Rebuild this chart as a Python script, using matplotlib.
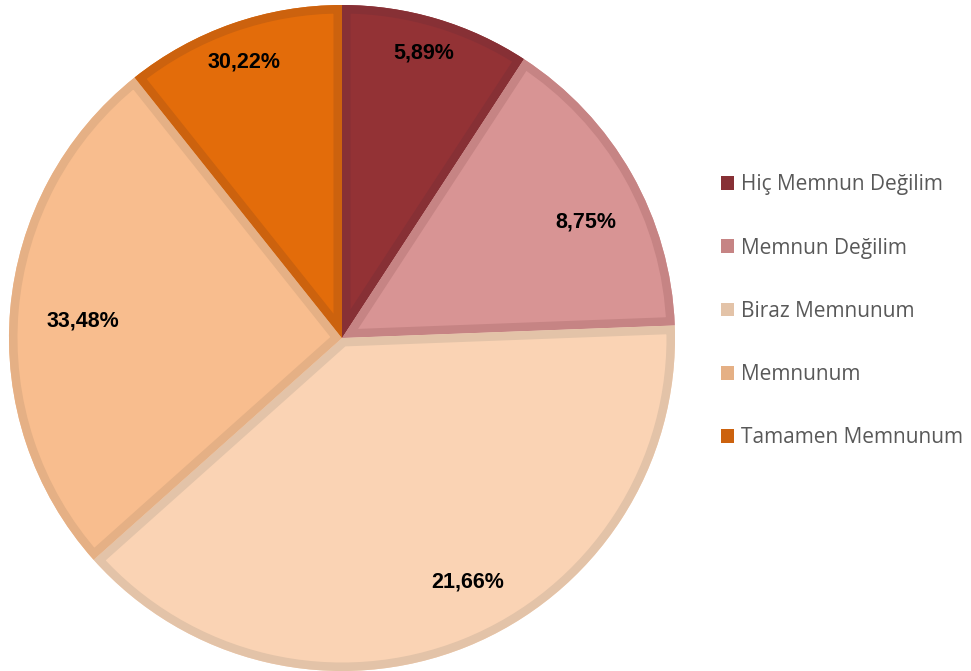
import numpy as np
import matplotlib.pyplot as plt
from matplotlib.patches import Patch, Wedge

# slice sizes (degrees -> %), labels as printed on the chart
categories = ['Hiç Memnun Değilim', 'Memnun Değilim', 'Biraz Memnunum', 'Memnunum', 'Tamamen Memnunum']
slice_sizes = [9.2, 15.2, 39.0, 25.9, 10.7]
value_labels = ['5,89%', '8,75%', '21,66%', '33,48%', '30,22%']

fill_colors = ['#933235', '#D89494', '#FAD3B4', '#F8BD8E', '#E36C0A']
edge_colors = ['#873035', '#C68484', '#E3C3A8', '#E5B085', '#CC620E']
# label placement: fraction of radius, angle offset from slice middle (deg)
label_dist = [0.89, 0.81, 0.824, 0.781, 0.88]
label_shift = [0.6, -4.1, 5.2, 1.1, 0.3]

W, H = 971, 671
fig = plt.figure(figsize=(W / 100, H / 100), dpi=100)
ax = fig.add_axes([0, 0, 1, 1])

cx, cy, r = 342, H - 338, 333
wedges, _ = ax.pie(slice_sizes, colors=fill_colors, startangle=90, counterclock=False,
                   center=(cx, cy), radius=r, frame=True,
                   wedgeprops=dict(linewidth=0))
ax.set_xlim(0, W)
ax.set_ylim(0, H)
ax.set_aspect('equal')
ax.axis('off')

# inner border: thick outline clipped to each slice
for w, ec in zip(wedges, edge_colors):
    border = Wedge(w.center, w.r, w.theta1, w.theta2, facecolor='none', edgecolor=ec,
                   linewidth=17 * 72 / 100, joinstyle='miter')
    ax.add_patch(border)
    border.set_clip_path(w)

for w, txt, d, s in zip(wedges, value_labels, label_dist, label_shift):
    mid = np.deg2rad((w.theta1 + w.theta2) / 2 + s)
    ax.text(cx + d * r * np.cos(mid), cy + d * r * np.sin(mid), txt,
            ha='center', va='center', fontsize=15.5, fontweight='bold',
            family=['Liberation Sans', 'DejaVu Sans'], color='black')

handles = [Patch(facecolor=c, edgecolor='none') for c in edge_colors]
leg = fig.legend(handles, categories, loc='center left', bbox_to_anchor=(0.743, 0.536),
                 frameon=False, prop={'family': ['Open Sans', 'DejaVu Sans'], 'size': 15},
                 labelspacing=2.03, handlelength=0.625, handleheight=0.625, handletextpad=0.33,
                 borderpad=0, borderaxespad=0)
for t in leg.get_texts():
    t.set_color('#595959')

fig.savefig('out.png', dpi=100)
